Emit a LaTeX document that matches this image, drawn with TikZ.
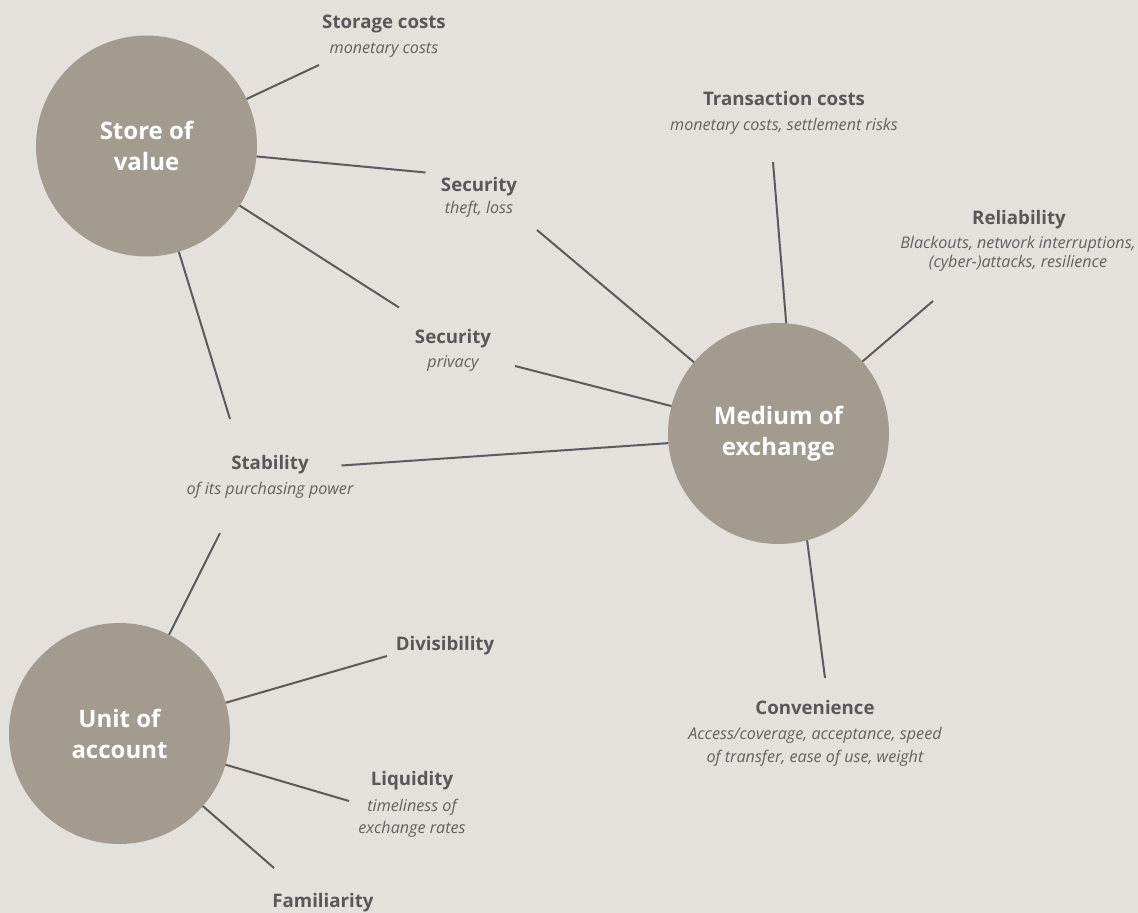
\documentclass[tikz,border=0pt]{standalone}
\usepackage{fontspec}
\setmainfont{Open Sans}
\definecolor{bg}{HTML}{E4E0DC}
\definecolor{circ}{HTML}{A39B90}
\definecolor{txt}{HTML}{58585A}
\definecolor{sub}{HTML}{616163}
\definecolor{ln}{HTML}{5B5B5F}
\begin{document}
\begin{tikzpicture}[x=0.75pt,y=-0.75pt,
  big/.style={circle,fill=circ,minimum size=165.75pt,inner sep=0pt,outer sep=0pt,
    text=white,align=center,font=\fontsize{18}{23.25}\selectfont\bfseries},
  tl/.style={anchor=base,text=txt,inner sep=0pt,font=\fontsize{14}{17}\selectfont\bfseries},
  sl/.style={anchor=base,text=sub,inner sep=0pt,font=\fontsize{12.1}{15}\selectfont\itshape},
  con/.style={draw=ln,line width=1.5pt}]
\fill[bg] (0,0) rectangle (1138,913);
\useasboundingbox (0,0) rectangle (1138,913);

% circles
\node[big] (sov) at (146.5,146) {Store of\\value};
\node[big] (moe) at (778.5,433.5) {Medium of\\exchange};
\node[big] (uoa) at (119.5,733.5) {Unit of\\account};

% labels
\node[tl] (t1) at (384,29) {Storage costs};
\node[sl] (s1) at (384,54) {monetary costs};
\node[tl] (t2) at (479,191) {Security};
\node[sl] (s2) at (479,213) {theft, loss};
\node[tl] (t3) at (784,106) {Transaction costs};
\node[sl] (s3) at (784,131) {monetary costs, settlement risks};
\node[tl] (t4) at (1019,224) {Reliability};
\node[sl] (s4a) at (1018,248) {Blackouts, network interruptions,};
\node[sl] (s4b) at (1018,267) {(cyber-)attacks, resilience};
\node[tl] (t5) at (453,343) {Security};
\node[sl] (s5) at (453,367) {privacy};
\node[tl] (t6) at (270,469) {Stability};
\node[sl] (s6) at (270,494) {of its purchasing power};
\node[tl] (t7) at (445,650) {Divisibility};
\node[tl] (t8) at (412,785) {Liquidity};
\node[sl] (s8a) at (412,811) {timeliness of};
\node[sl] (s8b) at (412,833) {exchange rates};
\node[tl] (t9) at (323,907) {Familiarity};
\node[tl] (t10) at (815,714) {Convenience};
\node[sl] (s10a) at (815,739) {Access/coverage, acceptance, speed};
\node[sl] (s10b) at (815,762) {of transfer, ease of use, weight};

% free ends
\coordinate (e1) at (319,65);
\coordinate (e2) at (425.5,172.5);
\coordinate (e3) at (399,307.5);
\coordinate (e4) at (230,419);
\coordinate (e5) at (341.5,465.5);
\coordinate (e6) at (515,366);
\coordinate (e7) at (537,230);
\coordinate (e8) at (773,162);
\coordinate (e9) at (933,301);
\coordinate (e10) at (825,678);
\coordinate (e11) at (220,533);
\coordinate (e12) at (387,656);
\coordinate (e13) at (349,801);
\coordinate (e14) at (274,868);

% connectors
\draw[con] (sov) -- (e1);
\draw[con] (sov) -- (e2);
\draw[con] (sov) -- (e3);
\draw[con] (sov) -- (e4);
\draw[con] (e5) -- (moe.185.5);
\draw[con] (e6) -- (moe);
\draw[con] (e7) -- (moe);
\draw[con] (e8) -- (moe.86.6);
\draw[con] (e9) -- (moe);
\draw[con] (e10) -- (moe.285.3);
\draw[con] (e11) -- (uoa);
\draw[con] (uoa) -- (e12);
\draw[con] (uoa) -- (e13);
\draw[con] (uoa) -- (e14);
\end{tikzpicture}
\end{document}
